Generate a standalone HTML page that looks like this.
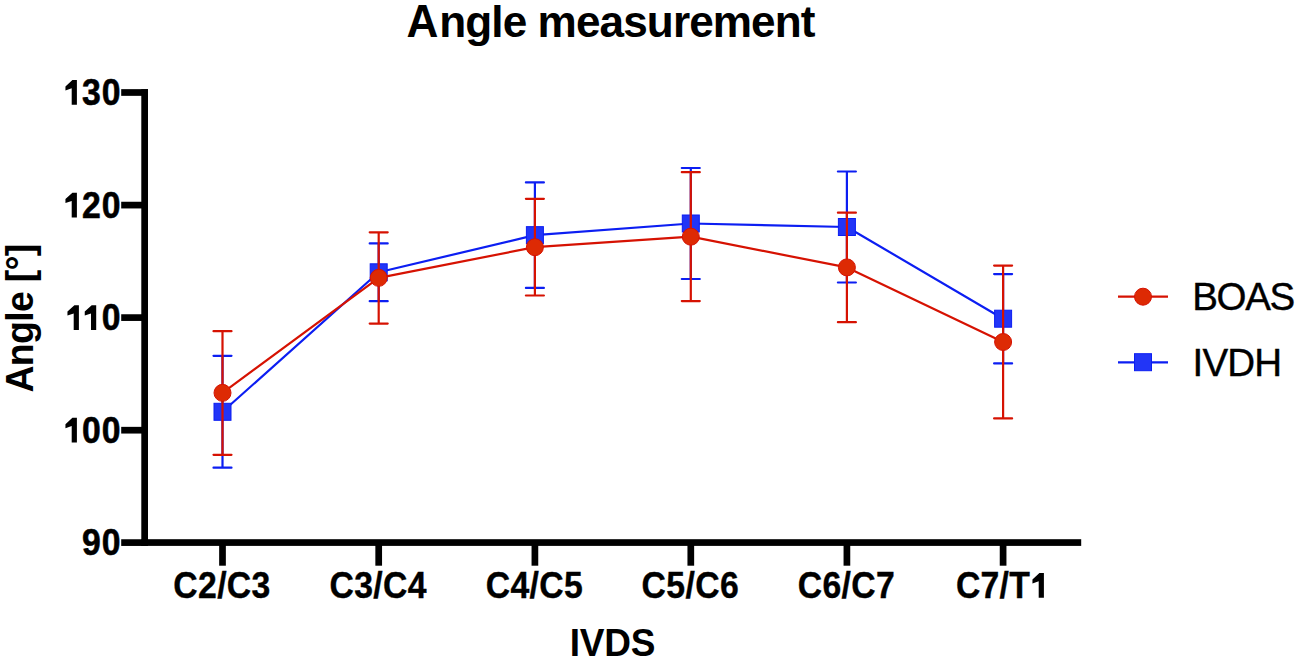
<!DOCTYPE html>
<html><head><meta charset="utf-8"><style>
html,body{margin:0;padding:0;background:#fff;width:1299px;height:662px;overflow:hidden}
svg{display:block;font-family:"Liberation Sans",sans-serif}
</style></head><body>
<svg width="1299" height="662" viewBox="0 0 1299 662">
<rect width="1299" height="662" fill="#fff"/>
<text transform="translate(406.6,37) scale(0.95,1)" font-size="46.5" font-weight="700">A</text>
<text transform="translate(439.2,37) scale(0.95,0.955)" font-size="46.5" font-weight="700" letter-spacing="-0.98">ngle measurement</text>
<rect x="141.3" y="89.2" width="6.7" height="456.8" fill="#000"/>
<rect x="141.3" y="539.2" width="939.9" height="6.7" fill="#000"/>
<rect x="121.2" y="89.15" width="26.8" height="6.7" fill="#000"/>
<text transform="translate(121.4,105.3) scale(0.9,1)" text-anchor="end" font-size="37.5" font-weight="700" letter-spacing="1.1" stroke="#000" stroke-width="0.6">30</text>
<path d="M76.90,104.80 L76.90,80.10 L72.40,80.10 L65.45,86.50 L65.45,90.45 L71.70,88.30 L71.70,104.80Z" fill="#000"/>
<rect x="121.2" y="201.75" width="26.8" height="6.7" fill="#000"/>
<text transform="translate(121.4,217.9) scale(0.9,1)" text-anchor="end" font-size="37.5" font-weight="700" letter-spacing="1.1" stroke="#000" stroke-width="0.6">20</text>
<path d="M76.90,217.40 L76.90,192.70 L72.40,192.70 L65.45,199.10 L65.45,203.05 L71.70,200.90 L71.70,217.40Z" fill="#000"/>
<rect x="121.2" y="314.25" width="26.8" height="6.7" fill="#000"/>
<text transform="translate(121.4,330.40000000000003) scale(0.9,1)" text-anchor="end" font-size="37.5" font-weight="700" letter-spacing="1.1" stroke="#000" stroke-width="0.6">0</text>
<path d="M78.90,329.90 L78.90,305.20 L74.40,305.20 L67.45,311.60 L67.45,315.55 L73.70,313.40 L73.70,329.90Z" fill="#000"/>
<path d="M96.20,329.90 L96.20,305.20 L91.70,305.20 L84.75,311.60 L84.75,315.55 L91.00,313.40 L91.00,329.90Z" fill="#000"/>
<rect x="121.2" y="426.85" width="26.8" height="6.7" fill="#000"/>
<text transform="translate(121.4,443.0) scale(0.9,1)" text-anchor="end" font-size="37.5" font-weight="700" letter-spacing="1.1" stroke="#000" stroke-width="0.6">00</text>
<path d="M76.90,442.50 L76.90,417.80 L72.40,417.80 L65.45,424.20 L65.45,428.15 L71.70,426.00 L71.70,442.50Z" fill="#000"/>
<rect x="121.2" y="539.25" width="26.8" height="6.7" fill="#000"/>
<text transform="translate(121.4,555.4) scale(0.9,1)" text-anchor="end" font-size="37.5" font-weight="700" letter-spacing="1.1" stroke="#000" stroke-width="0.6">90</text>
<rect x="219.15" y="542" width="6.7" height="23.7" fill="#000"/>
<text transform="translate(222.0,598) scale(0.9,1)" text-anchor="middle" font-size="37.5" font-weight="700" letter-spacing="0.4" stroke="#000" stroke-width="0.4">C2/C3</text>
<rect x="375.35" y="542" width="6.7" height="23.7" fill="#000"/>
<text transform="translate(378.2,598) scale(0.9,1)" text-anchor="middle" font-size="37.5" font-weight="700" letter-spacing="0.4" stroke="#000" stroke-width="0.4">C3/C4</text>
<rect x="531.55" y="542" width="6.7" height="23.7" fill="#000"/>
<text transform="translate(534.4,598) scale(0.9,1)" text-anchor="middle" font-size="37.5" font-weight="700" letter-spacing="0.4" stroke="#000" stroke-width="0.4">C4/C5</text>
<rect x="687.45" y="542" width="6.7" height="23.7" fill="#000"/>
<text transform="translate(690.3,598) scale(0.9,1)" text-anchor="middle" font-size="37.5" font-weight="700" letter-spacing="0.4" stroke="#000" stroke-width="0.4">C5/C6</text>
<rect x="843.55" y="542" width="6.7" height="23.7" fill="#000"/>
<text transform="translate(846.4,598) scale(0.9,1)" text-anchor="middle" font-size="37.5" font-weight="700" letter-spacing="0.4" stroke="#000" stroke-width="0.4">C6/C7</text>
<rect x="999.75" y="542" width="6.7" height="23.7" fill="#000"/>
<text transform="translate(956.0,598) scale(0.9,1)" text-anchor="start" font-size="37.5" font-weight="700" letter-spacing="0.25" stroke="#000" stroke-width="0.4">C7/T</text>
<path d="M1043.90,597.80 L1043.90,573.10 L1039.40,573.10 L1032.45,579.50 L1032.45,583.45 L1038.70,581.30 L1038.70,597.80Z" fill="#000"/>
<text transform="translate(612.5,655.7) scale(0.95,1)" text-anchor="middle" font-size="39" font-weight="700" letter-spacing="-0.3">IVDS</text>
<text transform="translate(32.6,318.5) rotate(-90) scale(0.95,1)" text-anchor="middle" font-size="39.5" font-weight="700" letter-spacing="-0.75">Angle [°]</text>
<polyline points="222.5,411.8 378.7,272.3 534.9,235.15 690.8,223.5 846.9,227.0 1003.1,318.7" fill="none" stroke="#0C1EF2" stroke-width="2.2" stroke-linejoin="round"/>
<path d="M222.5,355.8V467.7M213.5,355.8H231.5M213.5,467.7H231.5" stroke="#0C1EF2" stroke-width="2.2" fill="none" stroke-linecap="round"/>
<path d="M378.7,243.4V301.2M369.7,243.4H387.7M369.7,301.2H387.7" stroke="#0C1EF2" stroke-width="2.2" fill="none" stroke-linecap="round"/>
<path d="M534.9,182.4V287.9M525.9,182.4H543.9M525.9,287.9H543.9" stroke="#0C1EF2" stroke-width="2.2" fill="none" stroke-linecap="round"/>
<path d="M690.8,168.0V279.0M681.8,168.0H699.8M681.8,279.0H699.8" stroke="#0C1EF2" stroke-width="2.2" fill="none" stroke-linecap="round"/>
<path d="M846.9,171.5V282.5M837.9,171.5H855.9M837.9,282.5H855.9" stroke="#0C1EF2" stroke-width="2.2" fill="none" stroke-linecap="round"/>
<path d="M1003.1,274.1V363.4M994.1,274.1H1012.1M994.1,363.4H1012.1" stroke="#0C1EF2" stroke-width="2.2" fill="none" stroke-linecap="round"/>
<rect x="214.0" y="403.3" width="17" height="17" fill="#2235F7" stroke="#0C1EF2" stroke-width="1"/>
<rect x="370.2" y="263.8" width="17" height="17" fill="#2235F7" stroke="#0C1EF2" stroke-width="1"/>
<rect x="526.4" y="226.65" width="17" height="17" fill="#2235F7" stroke="#0C1EF2" stroke-width="1"/>
<rect x="682.3" y="215.0" width="17" height="17" fill="#2235F7" stroke="#0C1EF2" stroke-width="1"/>
<rect x="838.4" y="218.5" width="17" height="17" fill="#2235F7" stroke="#0C1EF2" stroke-width="1"/>
<rect x="994.6" y="310.2" width="17" height="17" fill="#2235F7" stroke="#0C1EF2" stroke-width="1"/>
<polyline points="222.5,392.85 378.7,277.85 534.9,247.2 690.8,236.7 846.9,267.4 1003.1,342.0" fill="none" stroke="#D61202" stroke-width="2.2" stroke-linejoin="round"/>
<path d="M222.5,331.2V454.8M213.5,331.2H231.5M213.5,454.8H231.5" stroke="#D61202" stroke-width="2.2" fill="none" stroke-linecap="round"/>
<path d="M378.7,232.3V323.6M369.7,232.3H387.7M369.7,323.6H387.7" stroke="#D61202" stroke-width="2.2" fill="none" stroke-linecap="round"/>
<path d="M534.9,198.8V295.5M525.9,198.8H543.9M525.9,295.5H543.9" stroke="#D61202" stroke-width="2.2" fill="none" stroke-linecap="round"/>
<path d="M690.8,172.2V301.1M681.8,172.2H699.8M681.8,301.1H699.8" stroke="#D61202" stroke-width="2.2" fill="none" stroke-linecap="round"/>
<path d="M846.9,212.7V322.2M837.9,212.7H855.9M837.9,322.2H855.9" stroke="#D61202" stroke-width="2.2" fill="none" stroke-linecap="round"/>
<path d="M1003.1,265.6V418.4M994.1,265.6H1012.1M994.1,418.4H1012.1" stroke="#D61202" stroke-width="2.2" fill="none" stroke-linecap="round"/>
<circle cx="222.5" cy="392.85" r="8.5" fill="#DD2A04" stroke="#D61202" stroke-width="1"/>
<circle cx="378.7" cy="277.85" r="8.5" fill="#DD2A04" stroke="#D61202" stroke-width="1"/>
<circle cx="534.9" cy="247.2" r="8.5" fill="#DD2A04" stroke="#D61202" stroke-width="1"/>
<circle cx="690.8" cy="236.7" r="8.5" fill="#DD2A04" stroke="#D61202" stroke-width="1"/>
<circle cx="846.9" cy="267.4" r="8.5" fill="#DD2A04" stroke="#D61202" stroke-width="1"/>
<circle cx="1003.1" cy="342.0" r="8.5" fill="#DD2A04" stroke="#D61202" stroke-width="1"/>
<line x1="1118" y1="296.6" x2="1168" y2="296.6" stroke="#D61202" stroke-width="2.2"/>
<circle cx="1143" cy="296.7" r="8.5" fill="#DD2A04" stroke="#D61202" stroke-width="1"/>
<line x1="1118" y1="362.3" x2="1168" y2="362.3" stroke="#0C1EF2" stroke-width="2.2"/>
<rect x="1134.5" y="353.7" width="17" height="17" fill="#2235F7" stroke="#0C1EF2" stroke-width="1"/>
<text transform="translate(1192.2,310)" text-anchor="start" font-size="38.5" font-weight="400" letter-spacing="-1.35" stroke="#000" stroke-width="0.4">BOAS</text>
<text transform="translate(1192.6,376)" text-anchor="start" font-size="38.5" font-weight="400" letter-spacing="-0.85" stroke="#000" stroke-width="0.4">IVDH</text>
</svg>
</body></html>
